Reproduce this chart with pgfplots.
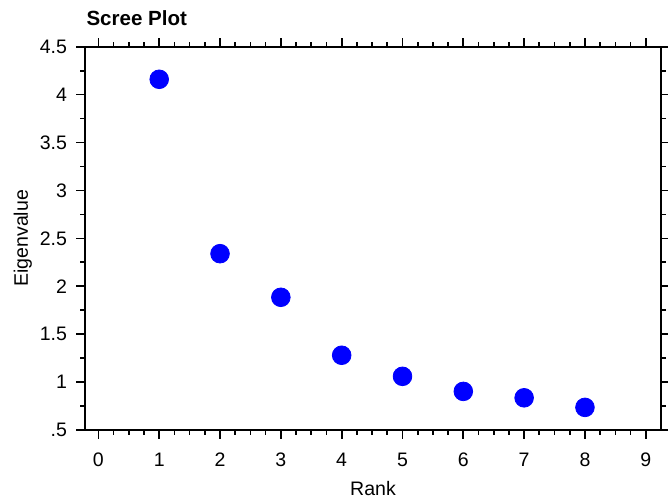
\documentclass[border=0pt]{standalone}
\usepackage{pgfplots}
\pgfplotsset{compat=1.18}
\usepackage{fontspec}
\setmainfont{Liberation Sans}
\begin{document}
\fontsize{9.8pt}{11.8pt}\selectfont
\begin{tikzpicture}
\useasboundingbox (-42.5bp,-36bp) rectangle (291.5bp,215bp);
\begin{axis}[
  at={(0,0)}, anchor=south west,
  scale only axis,
  width=288bp, height=191.65bp,
  xmin=-0.22, xmax=9.25,
  ymin=0.5, ymax=4.5,
  xtick={0,1,2,3,4,5,6,7,8,9},
  ytick={0.5,1,1.5,2,2.5,3,3.5,4,4.5},
  yticklabels={.5,1,1.5,2,2.5,3,3.5,4,4.5},
  minor x tick num=3,
  minor y tick num=1,
  tick align=outside,
  xtick pos=both, ytick pos=both,
  xticklabel pos=bottom, yticklabel pos=left,
  major tick length=4.3bp,
  minor tick length=2.3bp,
  axis line style={line width=0.85bp},
  every tick/.style={black, line width=0.85bp},
  /pgf/number format/assume math mode=true,
  tick label style={font=\fontsize{9.8pt}{11.8pt}\selectfont, inner sep=0pt},
  xticklabel shift=7bp,
  yticklabel shift=4.5bp,
  xlabel={Rank},
  ylabel={Eigenvalue},
  label style={font=\fontsize{9.8pt}{11.8pt}\selectfont, inner sep=0pt},
  xlabel style={at={(axis description cs:0.5,-0.1696)}, anchor=base},
  ylabel style={at={(axis description cs:-0.099,0.5)}, anchor=base, rotate=0},
  title={Scree Plot},
  title style={at={(axis description cs:0.002,1.025)}, anchor=base west, inner sep=0pt, font=\bfseries\fontsize{10.3pt}{12.3pt}\selectfont},
]
\addplot[only marks, mark=*, mark size=4.67bp, color={rgb,255:red,0;green,0;blue,255}]
coordinates {
(1,4.16) (2,2.34) (3,1.885) (4,1.28) (5,1.06) (6,0.903) (7,0.836) (8,0.736)
};
\end{axis}
\end{tikzpicture}
\end{document}
